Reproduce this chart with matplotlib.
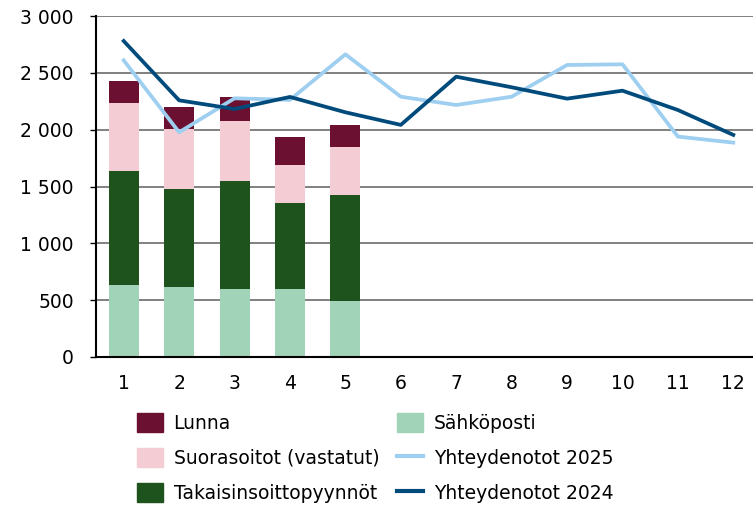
import matplotlib.pyplot as plt
from matplotlib.patches import Patch
from matplotlib.lines import Line2D
from matplotlib.ticker import FuncFormatter

plt.rcParams['font.family'] = ['DejaVu Sans']

months = list(range(1, 13))
bar_months = [1, 2, 3, 4, 5]

sahkoposti = [636, 618, 600, 600, 495]
takaisinsoitot = [1001, 861, 950, 756, 931]
suorasoitot = [598, 527, 527, 334, 422]
lunna = [193, 194, 211, 246, 194]

yhteydenotot_2025 = [2610, 1977, 2276, 2262, 2663, 2290, 2217, 2290, 2569, 2575, 1939, 1886]
yhteydenotot_2024 = [2780, 2258, 2182, 2288, 2153, 2042, 2466, 2373, 2273, 2343, 2173, 1954]

c_lunna = '#6B1030'
c_suora = '#F4CCD4'
c_takaisin = '#1F531E'
c_sahko = '#A0D3B7'
c_2025 = '#9ECFF0'
c_2024 = '#004B7B'

fig = plt.figure(figsize=(7.53, 5.09), dpi=100)
ax = fig.add_axes([96 / 753, 1 - 357 / 509, 665 / 753, 341 / 509])

# stacked monthly bars
w = 0.54
b1 = sahkoposti
b2 = [a + b for a, b in zip(b1, takaisinsoitot)]
b3 = [a + b for a, b in zip(b2, suorasoitot)]
ax.bar(bar_months, sahkoposti, w, color=c_sahko, zorder=2)
ax.bar(bar_months, takaisinsoitot, w, bottom=b1, color=c_takaisin, zorder=2)
ax.bar(bar_months, suorasoitot, w, bottom=b2, color=c_suora, zorder=2)
ax.bar(bar_months, lunna, w, bottom=b3, color=c_lunna, zorder=2)

# yearly totals
ax.plot(months, yhteydenotot_2025, color=c_2025, lw=2.7, zorder=3)
ax.plot(months, yhteydenotot_2024, color=c_2024, lw=2.7, zorder=4)

ax.set_xlim(0.5, 12.5)
ax.set_ylim(0, 3000)
ax.set_yticks(range(0, 3001, 500))
ax.set_xticks(months)
ax.yaxis.set_major_formatter(FuncFormatter(lambda v, p: f'{int(v):,}'.replace(',', ' ')))
ax.grid(axis='y', color='#808080', lw=1.4, zorder=0)
ax.set_axisbelow(True)
for s in ['top', 'right']:
    ax.spines[s].set_visible(False)
ax.spines['left'].set_linewidth(1.5)
ax.spines['bottom'].set_linewidth(1.5)
ax.tick_params(axis='y', length=4, width=1, labelsize=13.5, pad=12)
ax.tick_params(axis='x', length=0, labelsize=13.5, pad=12)

handles = [
    Patch(color=c_lunna), Patch(color=c_suora), Patch(color=c_takaisin),
    Patch(color=c_sahko),
    Line2D([], [], color=c_2025, lw=3), Line2D([], [], color=c_2024, lw=3),
]
labels = ['Lunna', 'Suorasoitot (vastatut)', 'Takaisinsoittopyynnöt',
          'Sähköposti', 'Yhteydenotot 2025', 'Yhteydenotot 2024']
fig.legend(handles, labels, ncol=2, loc='upper left',
           bbox_to_anchor=(0.182, 0.188), frameon=False, fontsize=13.5,
           handlelength=1.4, handleheight=1.17, handletextpad=0.55,
           columnspacing=0.95, labelspacing=0.8, borderaxespad=0,
           borderpad=0)

fig.savefig('out.png', dpi=100)
